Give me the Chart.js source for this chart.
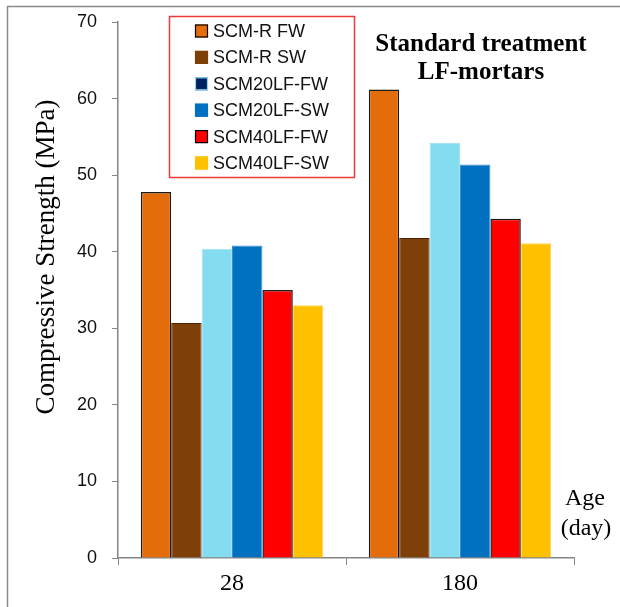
<!DOCTYPE html>
<html>
<head>
<meta charset="utf-8">
<script src="https://cdn.jsdelivr.net/npm/chart.js@4/dist/chart.umd.min.js"></script>
<style>
  html, body { margin: 0; padding: 0; background: #fff; }
  #wrap { width: 620px; height: 607px; position: relative; }
</style>
</head>
<body>
<div id="wrap"><canvas id="c" width="620" height="607"></canvas></div>
<script>
// ---- data ----
const categories = ['28', '180'];
const seriesNames = ['SCM-R FW', 'SCM-R SW', 'SCM20LF-FW', 'SCM20LF-SW', 'SCM40LF-FW', 'SCM40LF-SW'];
const scmRFW      = [47.8, 61.2];
const scmRSW      = [30.7, 41.8];
const scm20FW     = [40.4, 54.2];
const scm20SW     = [40.8, 51.4];
const scm40FW     = [35.0, 44.3];
const scm40SW     = [33.0, 41.1];
const yTicks = [0, 10, 20, 30, 40, 50, 60, 70];

// ---- styles ----
const barFill   = ['#E46C0A', '#7F3F08', '#84DCF1', '#0070C0', '#FF0000', '#FFC000'];
const barBorder = ['#1a1a1a', '#4a2404', '#9fe3f5', '#3b8fd0', '#1a1a1a', '#ffd24d'];
const barBorderW = [1.5, 1, 1, 1, 1.5, 1];
const legFill   = ['#E46C0A', '#7F3F08', '#002060', '#0070C0', '#FF0000', '#FFC000'];
const legStroke = ['#000000', '#7F3F08', '#8fd6ee', '#0070C0', '#000000', '#FFC000'];

const seriesValues = [scmRFW, scmRSW, scm20FW, scm20SW, scm40FW, scm40SW];

const datasets = seriesNames.map((name, i) => ({
  label: name,
  data: seriesValues[i],
  backgroundColor: barFill[i],
  borderColor: barBorder[i],
  borderWidth: barBorderW[i],
  barPercentage: 1.0,
  categoryPercentage: 0.8
}));

const decor = {
  id: 'decor',
  afterDraw(chart) {
    const ctx = chart.ctx;
    ctx.save();
    // outer frame (left + top)
    ctx.strokeStyle = '#8a8a8a';
    ctx.lineWidth = 1.5;
    ctx.beginPath();
    ctx.moveTo(7.5, 607);
    ctx.lineTo(7.5, 6.5);
    ctx.lineTo(620, 6.5);
    ctx.stroke();

    // legend box
    ctx.strokeStyle = '#f03a3a';
    ctx.lineWidth = 1.5;
    ctx.strokeRect(169.5, 16.5, 185, 161);
    ctx.font = '18px "Liberation Sans", Arial, sans-serif';
    ctx.textBaseline = 'middle';
    ctx.textAlign = 'left';
    chart.data.datasets.forEach((ds, i) => {
      const cy = 31 + i * 26.4;
      ctx.fillStyle = legFill[i];
      ctx.fillRect(195, cy - 6.5, 13, 13);
      ctx.strokeStyle = legStroke[i];
      ctx.lineWidth = 1.2;
      ctx.strokeRect(195.5, cy - 6, 12, 12);
      ctx.fillStyle = '#111';
      ctx.fillText(ds.label, 213, cy + 1);
    });

    // chart title
    ctx.fillStyle = '#000';
    ctx.textAlign = 'center';
    ctx.textBaseline = 'alphabetic';
    ctx.font = 'bold 25px "Liberation Serif", "Times New Roman", serif';
    ctx.fillText('Standard treatment', 481, 51);
    ctx.fillText('LF-mortars', 481, 79);

    // y-axis title
    ctx.font = '27px "Liberation Serif", "Times New Roman", serif';
    ctx.save();
    ctx.translate(54, 257);
    ctx.rotate(-Math.PI / 2);
    ctx.textAlign = 'center';
    ctx.textBaseline = 'alphabetic';
    ctx.fillText('Compressive Strength (MPa)', 0, 0);
    ctx.restore();

    // x-axis title
    ctx.font = '24px "Liberation Serif", "Times New Roman", serif';
    ctx.textAlign = 'center';
    ctx.fillText('Age', 585, 505);
    ctx.fillText('(day)', 586, 535);
    ctx.restore();
  }
};

new Chart(document.getElementById('c'), {
  type: 'bar',
  data: { labels: categories, datasets },
  options: {
    responsive: false,
    animation: false,
    events: [],
    layout: { padding: { top: 22, right: 46, bottom: 0, left: 0 } },
    plugins: { legend: { display: false }, tooltip: { enabled: false }, title: { display: false } },
    scales: {
      x: {
        grid: { display: true, drawOnChartArea: false, drawTicks: true, tickLength: 7, color: '#868686', offset: true },
        border: { display: true, color: '#868686', width: 1.5 },
        ticks: {
          color: '#000',
          padding: 4,
          font: { family: '"Liberation Serif", "Times New Roman", serif', size: 24 }
        },
        afterFit(scale) { scale.height = 49; }
      },
      y: {
        min: 0, max: 70,
        afterBuildTicks(scale) { scale.ticks = yTicks.map(v => ({ value: v })); },
        grid: { display: true, drawOnChartArea: false, drawTicks: true, tickLength: 6, color: '#868686' },
        border: { display: true, color: '#868686', width: 1.5 },
        ticks: {
          color: '#111',
          padding: 15,
          font: { family: '"Liberation Sans", Arial, sans-serif', size: 18, lineHeight: 0.4 }
        },
        afterFit(scale) { scale.width = 118; }
      }
    }
  },
  plugins: [decor]
});
</script>
</body>
</html>
